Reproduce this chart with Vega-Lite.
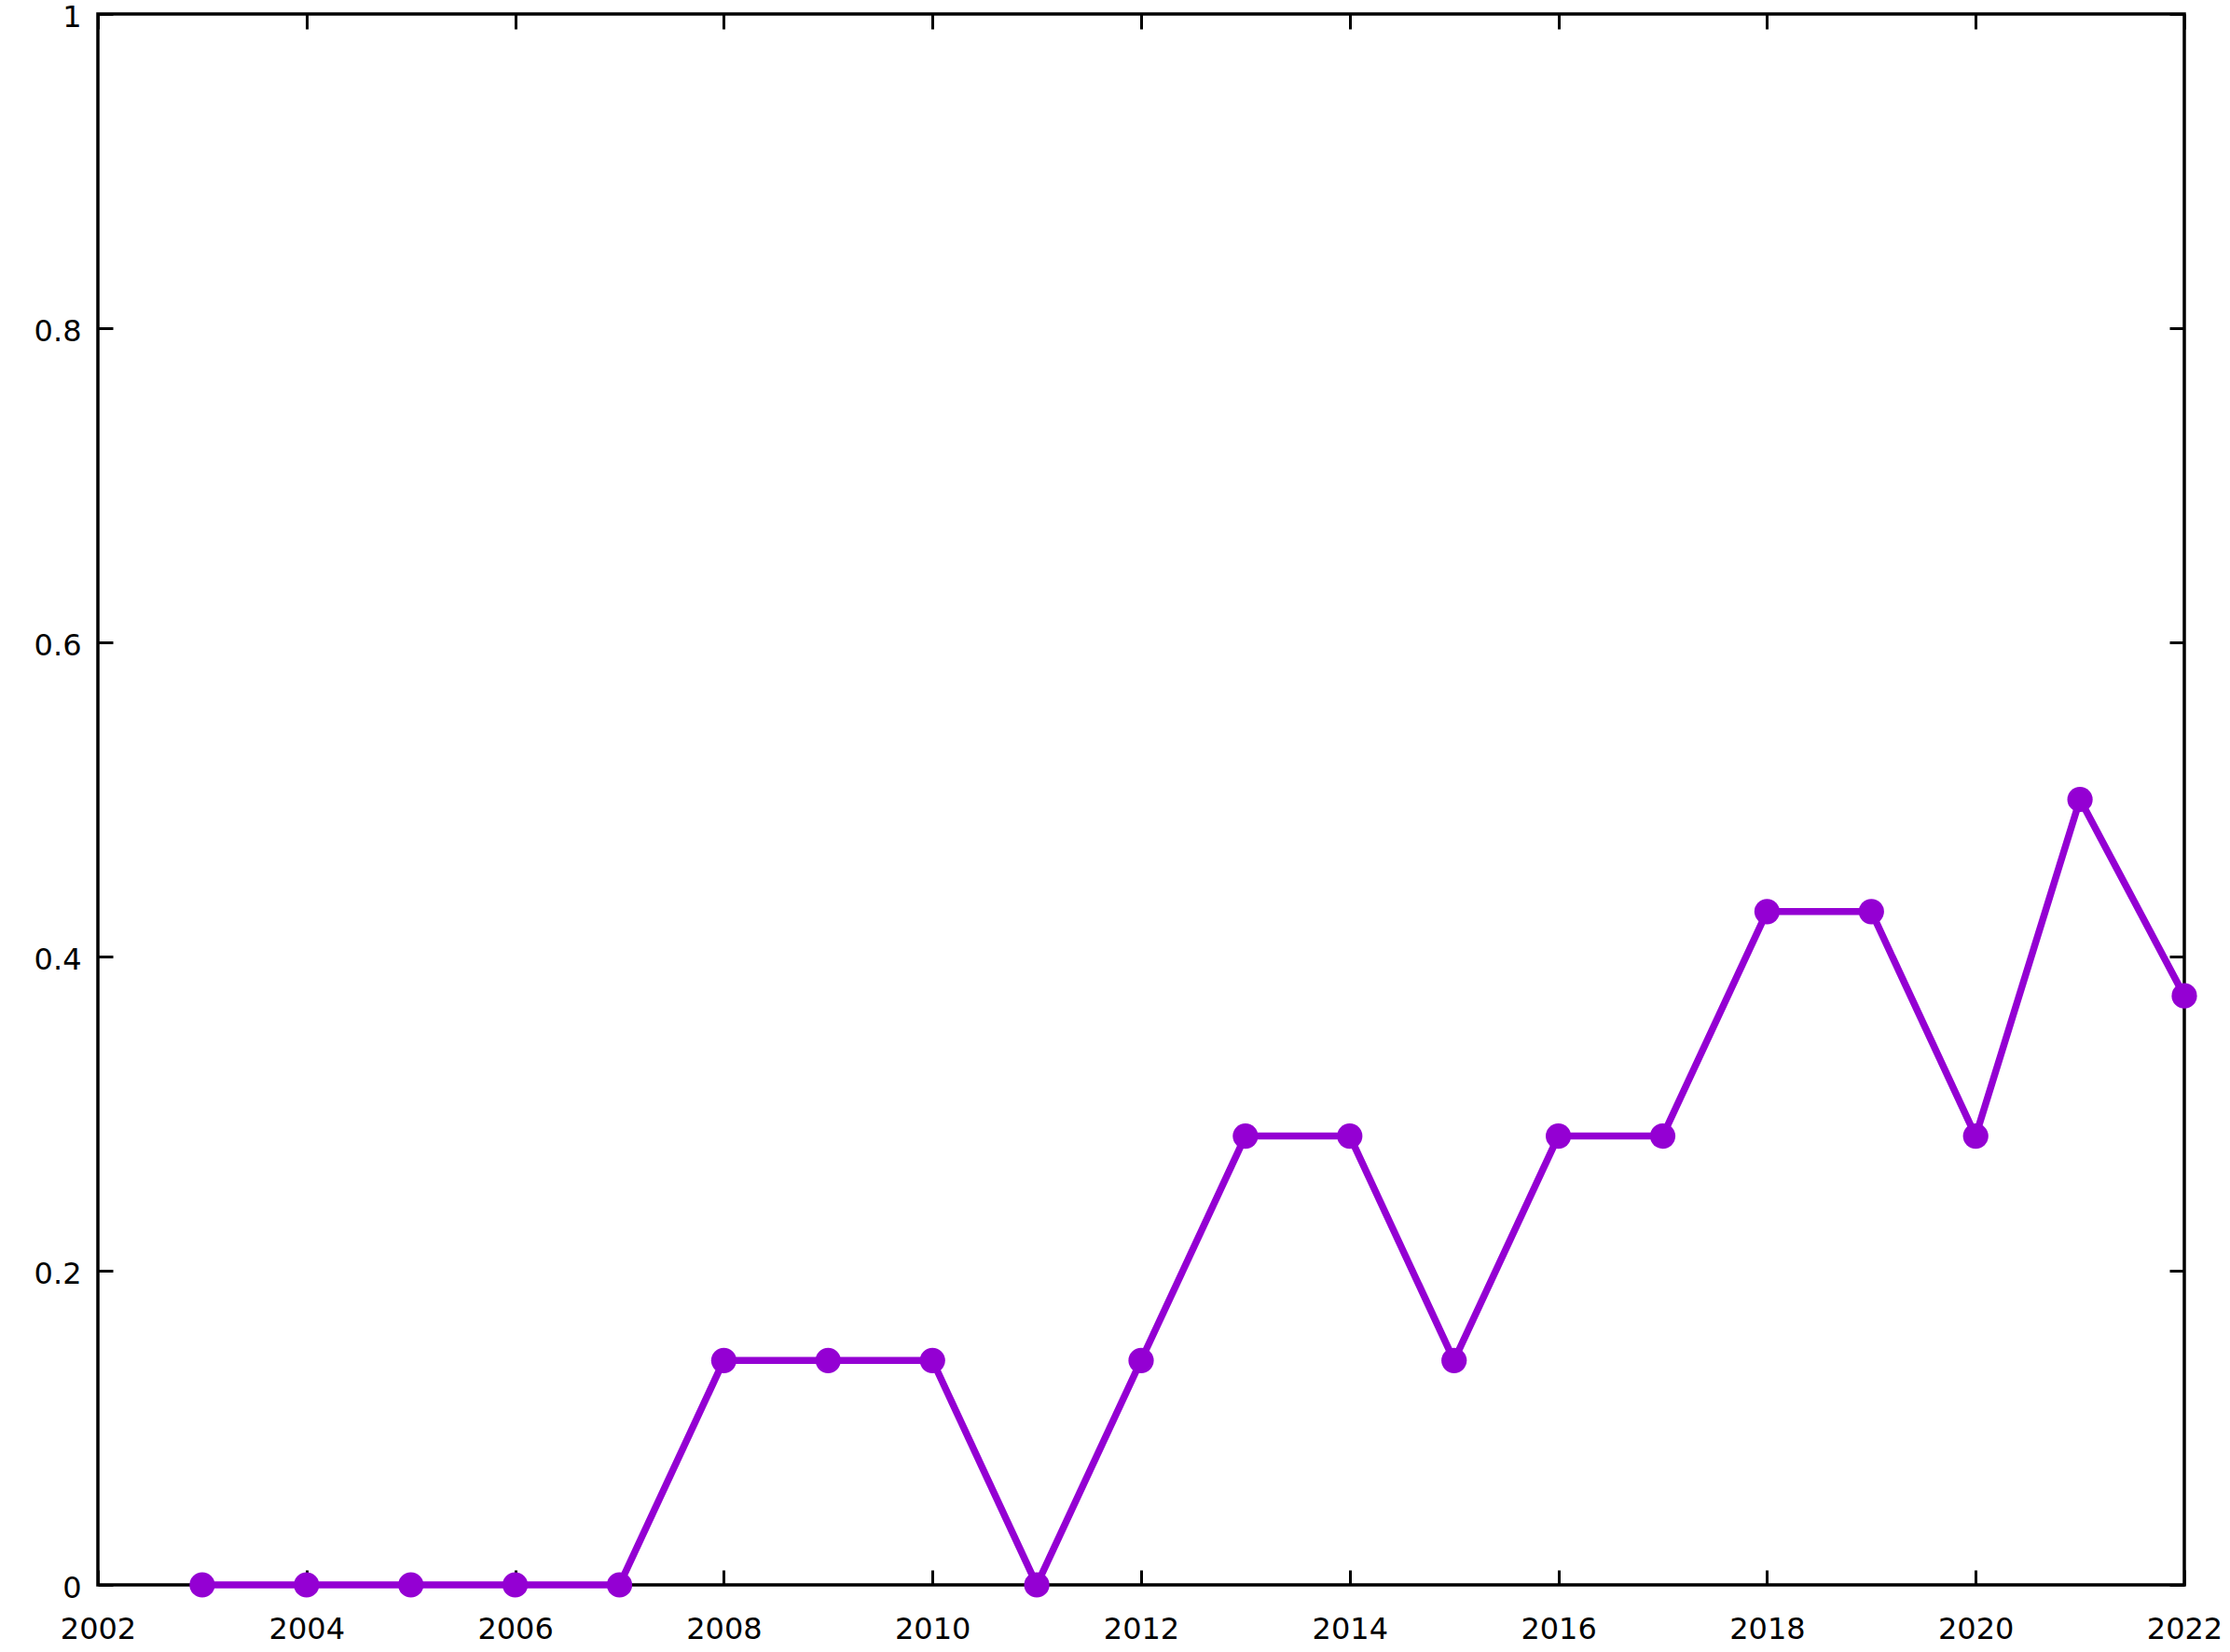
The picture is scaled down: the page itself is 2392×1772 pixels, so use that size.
{
  "$schema": "https://vega.github.io/schema/vega-lite/v6.json",
  "width": 2238,
  "height": 1685,
  "autosize": {"type": "none"},
  "padding": {"left": 105, "top": 15, "right": 49, "bottom": 72},
  "background": "white",
  "config": {
    "view": {"stroke": "black", "strokeWidth": 3.5},
    "axis": {
      "labelFont": "DejaVu Sans",
      "labelFontSize": 32,
      "labelColor": "black",
      "domain": false,
      "grid": false,
      "tickColor": "black",
      "tickWidth": 3,
      "ticks": true
    }
  },
  "data": {
    "values": [
      {"year": 2003, "value": 0},
      {"year": 2004, "value": 0},
      {"year": 2005, "value": 0},
      {"year": 2006, "value": 0},
      {"year": 2007, "value": 0},
      {"year": 2008, "value": 0.142857},
      {"year": 2009, "value": 0.142857},
      {"year": 2010, "value": 0.142857},
      {"year": 2011, "value": 0},
      {"year": 2012, "value": 0.142857},
      {"year": 2013, "value": 0.285714},
      {"year": 2014, "value": 0.285714},
      {"year": 2015, "value": 0.142857},
      {"year": 2016, "value": 0.285714},
      {"year": 2017, "value": 0.285714},
      {"year": 2018, "value": 0.428571},
      {"year": 2019, "value": 0.428571},
      {"year": 2020, "value": 0.285714},
      {"year": 2021, "value": 0.5},
      {"year": 2022, "value": 0.375}
    ]
  },
  "layer": [
    {
      "mark": {"type": "line", "color": "#9400D3", "strokeWidth": 7.5, "clip": false},
      "encoding": {
        "x": {
          "field": "year", "type": "quantitative",
          "scale": {"domain": [2002, 2022], "nice": false, "zero": false},
          "axis": {"orient": "bottom", "title": null, "values": [2002, 2004, 2006, 2008, 2010, 2012, 2014, 2016, 2018, 2020, 2022], "format": "d", "tickSize": -16, "labelPadding": 48, "labelFlush": false, "labelOverlap": false}
        },
        "y": {
          "field": "value", "type": "quantitative",
          "scale": {"domain": [0, 1], "nice": false},
          "axis": {"orient": "left", "title": null, "values": [0, 0.2, 0.4, 0.6, 0.8, 1], "labelExpr": "'' + datum.value", "tickSize": -16, "labelPadding": 34, "labelOffset": 3, "labelFlush": false, "labelOverlap": false}
        }
      }
    },
    {
      "mark": {"type": "point", "filled": true, "shape": "circle", "color": "#9400D3", "size": 740, "opacity": 1, "clip": false},
      "encoding": {
        "x": {
          "field": "year", "type": "quantitative",
          "scale": {"domain": [2002, 2022], "nice": false, "zero": false},
          "axis": {"orient": "top", "title": null, "values": [2002, 2004, 2006, 2008, 2010, 2012, 2014, 2016, 2018, 2020, 2022], "tickSize": -16, "labels": false}
        },
        "y": {
          "field": "value", "type": "quantitative",
          "scale": {"domain": [0, 1], "nice": false},
          "axis": {"orient": "right", "title": null, "values": [0, 0.2, 0.4, 0.6, 0.8, 1], "tickSize": -16, "labels": false}
        }
      }
    }
  ],
  "resolve": {"axis": {"x": "independent", "y": "independent"}}
}
